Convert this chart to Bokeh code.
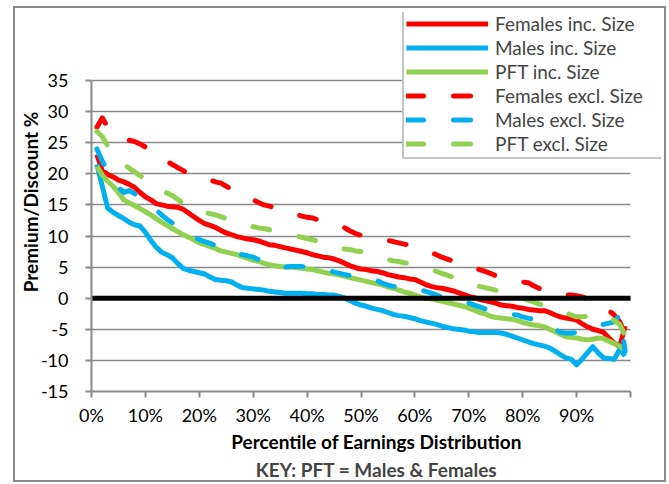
from bokeh.plotting import figure
from bokeh.models import Legend, LegendItem, FixedTicker, Title
from bokeh.embed import file_html
from bokeh.resources import INLINE

percentiles = list(range(1, 100))

females_inc = [23.1, 20.5, 19.9, 19.5, 19.0, 18.7, 18.3, 17.8, 17.0, 16.3,
               15.8, 15.2, 15.0, 14.8, 14.7, 14.6, 14.3, 13.7, 13.1, 12.5,
               12.0, 11.7, 11.4, 10.9, 10.5, 10.2, 9.9, 9.7, 9.5, 9.4,
               9.2, 8.9, 8.6, 8.5, 8.3, 8.1, 7.9, 7.7, 7.5, 7.3,
               7.0, 6.8, 6.6, 6.5, 6.3, 6.0, 5.6, 5.2, 4.9, 4.7,
               4.6, 4.4, 4.3, 4.1, 3.8, 3.6, 3.4, 3.3, 3.1, 3.0,
               2.6, 2.2, 1.9, 1.7, 1.6, 1.4, 1.2, 0.9, 0.6, 0.3,
               0.1, -0.2, -0.4, -0.6, -0.8, -1.1, -1.2, -1.3, -1.5, -1.6,
               -1.8, -1.9, -2.0, -2.0, -2.3, -2.7, -3.0, -3.2, -3.3, -3.5,
               -4.1, -4.6, -5.0, -5.2, -5.5, -6.4, -7.2, -7.8, -4.5]

males_inc = [21.5, 18.0, 14.5, 13.8, 13.3, 12.8, 12.2, 11.8, 11.6, 10.6,
             9.3, 8.2, 7.4, 7.0, 6.5, 5.6, 4.8, 4.5, 4.3, 4.1,
             3.9, 3.4, 3.0, 2.9, 2.8, 2.6, 2.1, 1.7, 1.6, 1.5,
             1.4, 1.3, 1.1, 1.0, 0.9, 0.8, 0.8, 0.8, 0.8, 0.7,
             0.7, 0.6, 0.6, 0.5, 0.5, 0.3, 0.0, -0.4, -0.8, -1.1,
             -1.3, -1.6, -1.8, -2.0, -2.3, -2.6, -2.8, -2.9, -3.1, -3.3,
             -3.6, -3.8, -4.0, -4.2, -4.5, -4.7, -4.9, -5.0, -5.1, -5.3,
             -5.4, -5.5, -5.5, -5.5, -5.5, -5.6, -5.8, -6.1, -6.4, -6.7,
             -7.0, -7.3, -7.5, -7.7, -8.0, -8.5, -9.1, -9.6, -9.8, -10.7,
             -9.8, -8.8, -7.8, -8.8, -9.6, -9.7, -9.8, -8.2, -9.3]

pft_inc = [21.2, 19.8, 18.8, 18.0, 17.0, 15.8, 15.3, 14.9, 14.4, 13.9,
           13.4, 12.8, 12.2, 11.7, 11.2, 10.7, 10.2, 9.8, 9.4, 8.9,
           8.6, 8.3, 8.0, 7.6, 7.4, 7.2, 7.0, 6.7, 6.4, 6.1,
           5.9, 5.6, 5.4, 5.2, 5.1, 5.0, 5.0, 4.9, 4.8, 4.7,
           4.6, 4.4, 4.2, 4.0, 3.9, 3.7, 3.5, 3.3, 3.1, 2.9,
           2.7, 2.5, 2.3, 2.1, 1.8, 1.6, 1.3, 1.0, 0.8, 0.5,
           0.2, 0.0, -0.1, -0.3, -0.5, -0.7, -0.9, -1.1, -1.3, -1.6,
           -1.9, -2.3, -2.5, -2.9, -3.1, -3.2, -3.3, -3.4, -3.6, -3.9,
           -4.1, -4.3, -4.4, -4.6, -5.0, -5.4, -5.8, -6.2, -6.3, -6.4,
           -6.6, -6.7, -6.6, -6.4, -6.5, -6.9, -7.3, -7.7, -8.3]

females_excl = [27.5, 29.0, 27.5, 26.8, 26.2, 25.8, 25.4, 25.2, 24.8, 24.3,
                24.0, 23.3, 22.6, 22.0, 21.5, 21.0, 20.5, 20.0, 19.6, 19.4,
                19.2, 19.0, 18.7, 18.5, 18.0, 17.5, 17.0, 16.6, 16.2, 15.8,
                15.4, 15.0, 14.8, 14.5, 14.3, 14.1, 13.8, 13.5, 13.2, 13.0,
                12.9, 12.6, 12.4, 12.3, 12.0, 11.8, 11.3, 10.8, 10.4, 10.1,
                10.0, 9.8, 9.7, 9.5, 9.3, 9.1, 8.9, 8.7, 8.5, 8.2,
                7.9, 7.6, 7.3, 7.0, 6.6, 6.3, 6.0, 5.7, 5.4, 5.1,
                4.8, 4.6, 4.3, 4.0, 3.6, 3.3, 3.1, 2.9, 2.8, 2.6,
                2.5, 2.0, 1.6, 1.2, 0.8, 0.7, 0.6, 0.5, 0.5, 0.4,
                0.2, -0.1, -0.5, -0.8, -1.3, -2.0, -2.7, -3.8, -5.5]

males_excl = [24.0, 22.0, 20.5, 19.0, 17.8, 17.0, 17.3, 16.8, 16.1, 15.5,
              14.9, 14.2, 13.4, 12.7, 12.1, 11.6, 11.2, 10.5, 10.0, 9.4,
              9.1, 8.8, 8.5, 8.2, 7.8, 7.5, 7.2, 7.0, 6.8, 6.6,
              6.2, 5.7, 5.3, 5.0, 5.0, 5.0, 5.1, 5.1, 5.1, 5.0,
              4.9, 4.8, 4.7, 4.5, 4.2, 4.0, 3.8, 3.6, 3.5, 3.4,
              3.3, 3.2, 2.8, 2.4, 2.1, 1.9, 1.8, 1.7, 1.6, 1.5,
              1.35, 1.1, 0.8, 0.5, 0.2, -0.2, -0.4, -0.5, -0.7, -0.8,
              -1.1, -1.4, -1.7, -2.0, -2.2, -2.3, -2.4, -2.6, -2.7, -3.0,
              -3.2, -3.4, -3.6, -4.0, -4.5, -5.0, -5.5, -5.6, -5.6, -5.5,
              -5.4, -5.2, -4.8, -4.5, -4.2, -4.0, -3.8, -2.7, -8.5]

pft_excl = [26.8, 26.0, 24.5, 23.3, 22.4, 21.5, 20.9, 20.3, 19.7, 19.1,
            18.5, 17.9, 17.4, 16.9, 16.5, 15.9, 15.2, 14.6, 14.3, 14.0,
            13.8, 13.6, 13.4, 13.1, 12.8, 12.4, 12.1, 11.9, 11.7, 11.5,
            11.3, 11.2, 11.0, 10.8, 10.6, 10.4, 10.2, 10.0, 9.8, 9.6,
            9.4, 9.1, 8.9, 8.6, 8.3, 8.1, 7.9, 7.8, 7.6, 7.5,
            7.2, 6.9, 6.7, 6.4, 6.2, 6.0, 5.9, 5.7, 5.6, 5.4,
            5.1, 4.8, 4.6, 4.3, 4.0, 3.7, 3.4, 3.2, 2.9, 2.5,
            2.2, 1.9, 1.7, 1.5, 1.3, 1.2, 1.1, 0.7, 0.3, 0.0,
            -0.3, -0.6, -0.9, -1.2, -1.5, -1.7, -2.0, -2.4, -2.7, -3.0,
            -3.0, -2.9, -2.7, -2.4, -2.8, -3.2, -3.6, -4.2, -6.0]

# zero reference line (drawn across the whole percentile axis)
baseline_x = [0, 100]
baseline_y = [0, 0]

x_ticks = [0, 10, 20, 30, 40, 50, 60, 70, 80, 90, 100]
x_tick_labels = ["0%", "10%", "20%", "30%", "40%", "50%", "60%", "70%", "80%", "90%", ""]
y_ticks = [-15, -10, -5, 0, 5, 10, 15, 20, 25, 30, 35]
y_tick_labels = ["-15", "-10", "-5", "0", "5", "10", "15", "20", "25", "30", "35"]

series = [
    ("Females inc. Size", females_inc, "#FF0000", "solid"),
    ("Males inc. Size", males_inc, "#00B0F0", "solid"),
    ("PFT inc. Size", pft_inc, "#92D050", "solid"),
    ("Females excl. Size", females_excl, "#FF0000", "dashed"),
    ("Males excl. Size", males_excl, "#00B0F0", "dashed"),
    ("PFT excl. Size", pft_excl, "#92D050", "dashed"),
]

FONT = "Lato"
GRID = "#8a8a8a"

# pixel layout of the plotting frame inside the canvas
W, H = 649, 472
FL, FR, FT, FB = 76, 3, 4, 89
frame_w = W - FL - FR          # 570
frame_h = H - FT - FB          # 379
axis_w = 539                   # pixels for 0..100 %
axis_h = 311                   # pixels for -15..35
x_end = 100 * frame_w / axis_w
y_end = -15 + 50 * frame_h / axis_h

p = figure(width=W, height=H, x_range=(0, x_end), y_range=(-15, y_end),
           output_backend="svg", toolbar_location=None,
           min_border_left=FL, min_border_right=FR, min_border_top=FT, min_border_bottom=FB)
p.styles = {"outline": "2px solid #8a8a8a", "margin-left": "15px", "margin-top": "8px"}
p.outline_line_color = None
p.background_fill_color = "white"
p.border_fill_color = "white"

p.xgrid.grid_line_color = None
p.ygrid.grid_line_color = GRID
p.ygrid.grid_line_width = 1.5
p.ygrid.ticker = FixedTicker(ticks=y_ticks)
p.ygrid.bounds = (-15, 35)
p.ygrid.cross_bounds = (0, 100)

p.xaxis.ticker = FixedTicker(ticks=x_ticks)
p.xaxis.major_label_overrides = {t: l for t, l in zip(x_ticks, x_tick_labels)}
p.xaxis.bounds = (0, 100)
p.yaxis.ticker = FixedTicker(ticks=y_ticks)
p.yaxis.major_label_overrides = {t: l for t, l in zip(y_ticks, y_tick_labels)}
p.yaxis.bounds = (-15, 35)
for ax in (p.xaxis, p.yaxis):
    ax.axis_line_color = GRID
    ax.axis_line_width = 2
    ax.major_tick_line_color = GRID
    ax.major_tick_line_width = 2
    ax.major_tick_out = 6
    ax.major_tick_in = 0
    ax.minor_tick_line_color = None
    ax.major_label_text_font = FONT
    ax.major_label_text_font_size = "18px"
    ax.major_label_text_color = "black"
    ax.axis_label_text_font = FONT
    ax.axis_label_text_font_size = "19px"
    ax.axis_label_text_font_style = "bold"
    ax.axis_label_text_color = "black"

p.xaxis.major_label_standoff = 6
p.yaxis.major_label_standoff = 17
p.xaxis.axis_label = "Percentile of Earnings Distribution"
p.xaxis.axis_label_standoff = 1
p.yaxis.axis_label = "Premium/Discount %"
p.yaxis.axis_label_standoff = -4

key = Title(text="KEY: PFT = Males & Females", align="center", text_font=FONT,
            text_font_size="19px", text_font_style="bold", standoff=0)
p.add_layout(key, "below")

renderers = []
for name, vals, color, style in series:
    dashed = style != "solid"
    r = p.line(percentiles, vals, line_color=color, line_width=5,
               line_dash="17 30" if dashed else "solid",
               line_cap="round" if dashed else "butt", line_join="round")
    renderers.append((name, r))

p.line(baseline_x, baseline_y, line_color="black", line_width=5)

items = [LegendItem(label=name, renderers=[r]) for name, r in renderers]
legend = Legend(items=items, location=(311, 232), orientation="vertical",
                label_text_font=FONT, label_text_font_size="19px",
                glyph_width=82, glyph_height=19, label_height=19, label_width=164,
                spacing=1, padding=2, margin=0, label_standoff=7,
                border_line_color=GRID, border_line_width=2,
                background_fill_color="white", background_fill_alpha=1.0)
p.add_layout(legend)

open("out.html", "w").write(file_html(p, INLINE))
